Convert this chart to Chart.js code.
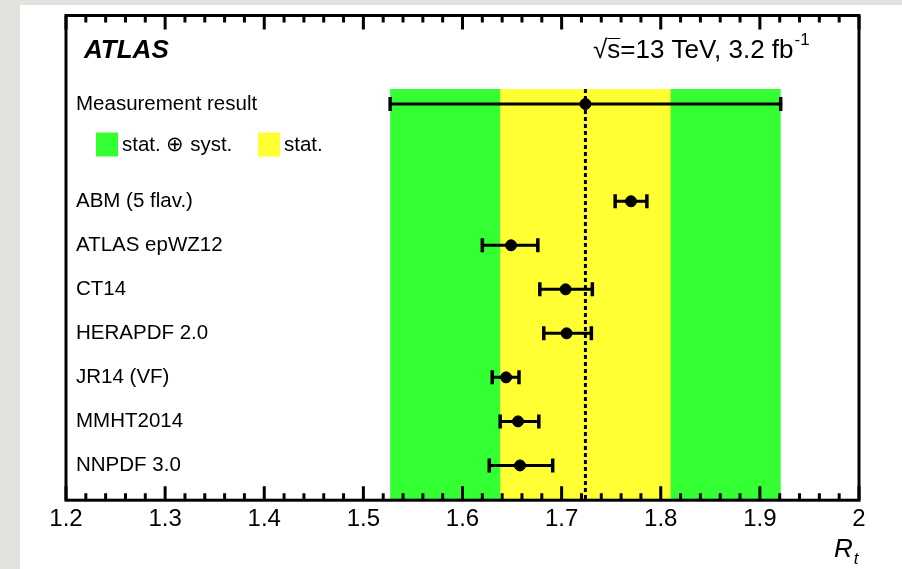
<!DOCTYPE html>
<html>
<head>
<meta charset="utf-8">
<script src="https://cdn.jsdelivr.net/npm/chart.js@4.4.1/dist/chart.umd.min.js"></script>
<style>
  html, body { margin: 0; padding: 0; }
  body { width: 902px; height: 569px; background: #e4e2de; position: relative; overflow: hidden; }
  #marco { position: absolute; left: 20px; top: 5px; width: 882px; height: 564px; background: #fff; }
</style>
</head>
<body>
<div id="marco"><canvas id="grafico-rt"></canvas></div>
<script>
// Predicciones de los PDF (valor central y extremos de la barra de error)
var modelos = ['ABM (5 flav.)', 'ATLAS epWZ12', 'CT14', 'HERAPDF 2.0', 'JR14 (VF)', 'MMHT2014', 'NNPDF 3.0'];
var centrales = [1.770, 1.649, 1.704, 1.705, 1.644, 1.656, 1.658];
var errAbajo = [1.754, 1.620, 1.678, 1.682, 1.630, 1.638, 1.627];
var errArriba = [1.786, 1.676, 1.731, 1.730, 1.657, 1.677, 1.691];

// Resultado medido: valor, error estadístico y error total (stat. ⊕ syst.)
var medida = [1.724];
var errStat = [0.086];
var errTotal = [0.197];
var etiquetaMedida = ['Measurement result'];
var leyenda = ['stat. \u2295 syst.', 'stat.'];

// Filas en el eje y (unidades del eje) y marcas del eje x
var filasModelos = [1, 2, 3, 4, 5, 6, 7];
var filaMedida = [-1.21];
var filaLeyenda = [-0.29];
var ticksX = [1.2, 1.3, 1.4, 1.5, 1.6, 1.7, 1.8, 1.9, 2];

var X_MIN = 1.2, X_MAX = 2.0;
var Y_MIN = -3.22, Y_MAX = 7.79, Y_BANDA = -1.55;
var VERDE = '#33ff33', AMARILLO = '#ffff33';
var FUENTE = "'Liberation Sans', Arial, Helvetica, sans-serif";

Chart.defaults.font.family = FUENTE;

function banda(centro, err) {
    return [
        { x: centro - err, y: Y_BANDA },
        { x: centro + err, y: Y_BANDA },
        { x: centro + err, y: Y_MAX },
        { x: centro - err, y: Y_MAX }
    ];
}

function barraError(lo, hi, y, orden) {
    return {
        type: 'line',
        data: [{ x: lo, y: y }, { x: hi, y: y }],
        borderColor: '#000',
        borderWidth: 3,
        pointStyle: 'line',
        rotation: 90,
        pointRadius: 7,
        pointBorderWidth: 3.5,
        pointBorderColor: '#000',
        fill: false,
        order: orden
    };
}

var datasets = [];

// puntos centrales (medida + modelos)
var puntos = [{ x: medida[0], y: filaMedida[0] }].concat(
    centrales.map(function (c, i) { return { x: c, y: filasModelos[i] }; })
);
datasets.push({
    type: 'line',
    data: puntos,
    showLine: false,
    pointRadius: 5.5,
    pointBackgroundColor: '#000',
    pointBorderColor: '#000',
    order: 0
});

// barra de error del resultado medido (total)
datasets.push(barraError(medida[0] - errTotal[0], medida[0] + errTotal[0], filaMedida[0], 1));

// barras de error de los modelos
modelos.forEach(function (m, i) {
    datasets.push(barraError(errAbajo[i], errArriba[i], filasModelos[i], 1));
});

// línea punteada en el valor medido
datasets.push({
    type: 'line',
    data: [{ x: medida[0], y: Y_BANDA }, { x: medida[0], y: Y_MAX }],
    borderColor: '#000',
    borderWidth: 3,
    borderDash: [4, 3],
    pointRadius: 0,
    fill: false,
    order: 5
});

// bandas: estadística (amarillo) y total (verde)
datasets.push({
    type: 'line',
    data: banda(medida[0], errStat[0]),
    borderWidth: 0,
    borderColor: 'rgba(0,0,0,0)',
    backgroundColor: AMARILLO,
    pointRadius: 0,
    fill: 'shape',
    order: 8
});
datasets.push({
    type: 'line',
    data: banda(medida[0], errTotal[0]),
    borderWidth: 0,
    borderColor: 'rgba(0,0,0,0)',
    backgroundColor: VERDE,
    pointRadius: 0,
    fill: 'shape',
    order: 9
});

var filasEtiquetas = filaMedida.concat(filasModelos);
var etiquetasY = etiquetaMedida.concat(modelos);

// Marco con marcas interiores, textos y leyenda
var marcoAtlas = {
    id: 'marcoAtlas',
    afterDatasetsDraw: function (chart) {
        var ctx = chart.ctx;
        var a = chart.chartArea;
        var ex = chart.scales.x;
        var ey = chart.scales.y;
        ctx.save();
        ctx.strokeStyle = '#000';
        ctx.lineWidth = 3;

        var pasos = Math.round((X_MAX - X_MIN) / 0.02);
        for (var k = 0; k <= pasos; k++) {
            var px = ex.getPixelForValue(X_MIN + k * 0.02);
            var largo = (k % 5 === 0) ? 14 : 7;
            ctx.beginPath();
            ctx.moveTo(px, a.bottom);
            ctx.lineTo(px, a.bottom - largo);
            ctx.moveTo(px, a.top);
            ctx.lineTo(px, a.top + largo);
            ctx.stroke();
        }
        ctx.strokeRect(a.left, a.top, a.right - a.left, a.bottom - a.top);

        ctx.fillStyle = '#000';
        ctx.textBaseline = 'middle';
        ctx.textAlign = 'left';

        // ATLAS
        ctx.font = 'italic bold 26px ' + FUENTE;
        ctx.fillText('ATLAS', a.left + 18, a.top + 35);

        // energía y luminosidad
        ctx.font = '26px ' + FUENTE;
        var x0 = a.left + 527;
        var yT = a.top + 35;
        var raiz = '\u221A';
        ctx.fillText(raiz, x0, yT);
        var xs = x0 + ctx.measureText(raiz).width;
        ctx.fillText('s', xs, yT);
        ctx.lineWidth = 1;
        ctx.beginPath();
        ctx.moveTo(xs, yT - 12);
        ctx.lineTo(xs + ctx.measureText('s').width, yT - 12);
        ctx.stroke();
        var resto = 's=13 TeV, 3.2 fb';
        ctx.fillText(resto.slice(1), xs + ctx.measureText('s').width, yT);
        var xf = xs + ctx.measureText(resto).width;
        ctx.font = '17px ' + FUENTE;
        ctx.fillText('-1', xf + 1, yT - 10);

        // leyenda
        var yl = ey.getPixelForValue(filaLeyenda[0]);
        var colores = [VERDE, AMARILLO];
        var xCaja = [a.left + 30, a.left + 192];
        ctx.font = '20.5px ' + FUENTE;
        for (var j = 0; j < leyenda.length; j++) {
            ctx.fillStyle = colores[j];
            ctx.fillRect(xCaja[j], yl - 12, 22, 24);
            ctx.fillStyle = '#000';
            ctx.fillText(leyenda[j], xCaja[j] + 26, yl + 1);
        }

        // título del eje x: R_t
        ctx.textBaseline = 'alphabetic';
        ctx.font = 'italic 26px ' + FUENTE;
        var xr = a.right - 25;
        ctx.fillText('R', xr, a.bottom + 57);
        var wr = ctx.measureText('R').width;
        ctx.font = 'italic 17px ' + FUENTE;
        ctx.fillText('t', xr + wr + 1, a.bottom + 64);
        ctx.restore();
    }
};

new Chart(document.getElementById('grafico-rt').getContext('2d'), {
    type: 'line',
    data: { datasets: datasets },
    plugins: [marcoAtlas],
    options: {
        responsive: true,
        maintainAspectRatio: false,
        animation: false,
        events: [],
        layout: { padding: { left: 26, right: 43, top: 4, bottom: 30 } },
        plugins: {
            legend: { display: false },
            tooltip: { enabled: false }
        },
        scales: {
            x: {
                type: 'linear',
                min: X_MIN,
                max: X_MAX,
                grid: { display: false, drawTicks: false },
                border: { display: false },
                afterBuildTicks: function (eje) {
                    eje.ticks = ticksX.map(function (v) { return { value: v }; });
                },
                ticks: {
                    padding: 5,
                    autoSkip: false,
                    maxRotation: 0,
                    color: '#000',
                    font: { size: 24 },
                    callback: function (v) { return String(v); }
                }
            },
            y: {
                type: 'linear',
                reverse: true,
                min: Y_MIN,
                max: Y_MAX,
                grid: { display: false, drawTicks: false },
                border: { display: false },
                afterBuildTicks: function (eje) {
                    eje.ticks = filasEtiquetas.map(function (v) { return { value: v }; });
                },
                afterFit: function (eje) {
                    eje.paddingTop = 0;
                    eje.paddingBottom = 0;
                },
                ticks: {
                    mirror: true,
                    padding: 10,
                    autoSkip: false,
                    color: '#000',
                    font: { size: 20.5 },
                    callback: function (v, i) { return etiquetasY[i]; }
                }
            }
        }
    }
});
</script>
</body>
</html>
